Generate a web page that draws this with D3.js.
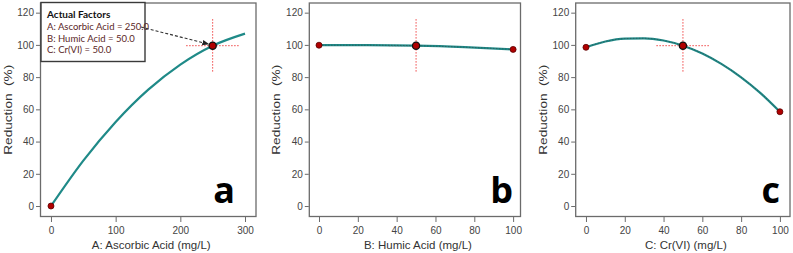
<!DOCTYPE html>
<html><head><meta charset="utf-8">
<script src="https://cdn.jsdelivr.net/npm/d3@7"></script>
<style>
html,body{margin:0;padding:0;background:#fff;}
svg{display:block;}
</style></head>
<body>
<svg id="chart" width="793" height="253"></svg>
<script>
// ---- data ----
const yTicks = [0, 20, 40, 60, 80, 100, 120];
const ascorbicTicks = [0, 100, 200, 300];
const pctTicks = [0, 20, 40, 60, 80, 100];

const ascorbicX = [0, 50, 100, 150, 200, 250, 300];
const ascorbicY = [0, 28.2, 52.2, 72.1, 87.8, 99.5, 107.0];

const humicX = [0, 25, 50, 75, 100];
const humicY = [99.8, 99.8, 99.5, 98.6, 97.2];

const crX = [0, 10, 20, 30, 40, 50, 60, 70, 80, 90, 100];
const crY = [98.5, 102.1, 103.9, 104.1, 102.7, 99.5, 94.7, 88.1, 79.9, 70.1, 58.5];

const ascorbicPtsX = [0, 250];
const ascorbicPtsY = [0, 99.5];
const humicPtsX = [0, 50, 100];
const humicPtsY = [99.8, 99.5, 97.2];
const crPtsX = [0, 50, 100];
const crPtsY = [98.5, 99.5, 58.5];

const xTitles = ["A: Ascorbic Acid (mg/L)", "B: Humic Acid (mg/L)", "C: Cr(VI) (mg/L)"];
const yTitle = "Reduction  (%)";
const panelLetters = ["a", "b", "c"];
const legendTitle = "Actual Factors";
const legendLines = ["A: Ascorbic Acid = 250.0", "B: Humic Acid = 50.0", "C: Cr(VI) = 50.0"];

// ---- layout ----
const svg = d3.select("#chart");
const plotTop = 3, plotBottom = 216.5;
const y = d3.scaleLinear().domain([-6.5, 126]).range([plotBottom, plotTop]);

const panels = [
  {dom: [-16.2, 317], range: [40.5, 256], ticks: ascorbicTicks, cx: ascorbicX, cy: ascorbicY,
   px: ascorbicPtsX, py: ascorbicPtsY, center: 250, hw: 41, letterX: 235, dashed: false},
  {dom: [-5, 103.8], range: [309.3, 520.5], ticks: pctTicks, cx: humicX, cy: humicY,
   px: humicPtsX, py: humicPtsY, center: 50, hw: 14, letterX: 513, dashed: true},
  {dom: [-5.3, 105.2], range: [575.7, 790], ticks: pctTicks, cx: crX, cy: crY,
   px: crPtsX, py: crPtsY, center: 50, hw: 13.7, letterX: 780, dashed: true}
];

const axisColor = "#6b6b6b";
const teal = "#1f8a88";
const ptFill = "#b00000";

const defs = svg.append("defs");
defs.append("marker").attr("id", "arr").attr("viewBox", "0 0 10 10").attr("refX", 9).attr("refY", 5)
  .attr("markerWidth", 7).attr("markerHeight", 7).attr("orient", "auto").attr("markerUnits", "userSpaceOnUse")
  .append("path").attr("d", "M0,1 L10,5 L0,9 Z").attr("fill", "#222");

panels.forEach((p, i) => {
  const x = d3.scaleLinear().domain(p.dom).range(p.range);
  const g = svg.append("g");

  // frame
  g.append("rect").attr("x", p.range[0]).attr("y", plotTop)
    .attr("width", p.range[1] - p.range[0]).attr("height", plotBottom - plotTop)
    .attr("fill", "none").attr("stroke", axisColor).attr("stroke-width", 1.3);

  // axes
  const ya = g.append("g").attr("transform", `translate(${p.range[0] - 0.5},0)`)
    .call(d3.axisLeft(y).tickValues(yTicks).tickSize(4).tickPadding(2));
  const xa = g.append("g").attr("transform", `translate(0,${plotBottom + 0.5})`)
    .call(d3.axisBottom(x).tickValues(p.ticks).tickSize(5).tickPadding(5));
  [ya, xa].forEach(a => {
    a.select(".domain").remove();
    a.selectAll(".tick line").attr("stroke", axisColor).attr("stroke-width", 1);
    a.selectAll(".tick text").attr("fill", "#444").style("font-family", "Liberation Sans, Arial, sans-serif").style("font-size", "10px");
  });

  // titles
  g.append("text").attr("x", (p.range[0] + p.range[1]) / 2 + 3).attr("y", 249)
    .attr("text-anchor", "middle").attr("fill", "#333")
    .style("font-family", "Liberation Sans, Arial, sans-serif").style("font-size", "11.5px")
    .text(xTitles[i]);
  g.append("text").attr("transform", `translate(${p.range[0] - 29},${(plotTop + plotBottom) / 2}) rotate(-90)`)
    .attr("text-anchor", "middle").attr("fill", "#333")
    .attr("textLength", 90).attr("lengthAdjust", "spacingAndGlyphs")
    .style("font-family", "Liberation Sans, Arial, sans-serif").style("font-size", "11.5px")
    .style("white-space", "pre")
    .text(yTitle);

  // crosshair
  const cyv = p.py[p.px.indexOf(p.center)];
  const cross = g.append("g").attr("stroke", "#f04848").attr("stroke-width", 1).attr("stroke-dasharray", "1.5,1.5");
  cross.append("line").attr("x1", x(p.center)).attr("x2", x(p.center)).attr("y1", y(cyv + 16.5)).attr("y2", y(cyv - 16.5));
  cross.append("line").attr("x1", x(p.center - p.hw)).attr("x2", x(p.center + p.hw)).attr("y1", y(cyv)).attr("y2", y(cyv));

  // curve
  const line = d3.line().x(d => x(d[0])).y(d => y(d[1])).curve(d3.curveMonotoneX);
  const pts = p.cx.map((v, k) => [v, p.cy[k]]);
  g.append("path").attr("d", line(pts)).attr("fill", "none").attr("stroke", teal).attr("stroke-width", 2.2);
  if (p.dashed) {
    g.append("path").attr("d", line(pts)).attr("fill", "none").attr("stroke", "#2d5e5c")
      .attr("stroke-width", 0.9).attr("stroke-dasharray", "1.5,1.5");
  }

  // points
  p.px.forEach((v, k) => {
    const isC = v === p.center;
    g.append("circle").attr("cx", x(v)).attr("cy", y(p.py[k])).attr("r", isC ? 3.6 : 3)
      .attr("fill", ptFill).attr("stroke", isC ? "#111" : "#5a0000").attr("stroke-width", isC ? 1.3 : 0.8);
  });

  // letter
  g.append("text").attr("x", p.letterX).attr("y", 203).attr("text-anchor", "end")
    .style("font-family", "Open Sans, Liberation Sans, Arial, sans-serif").style("font-weight", "bold")
    .style("font-size", "36px").attr("fill", "#000").text(panelLetters[i]);

  if (i === 0) {
    const lg = g.append("g");
    lg.append("rect").attr("x", 41).attr("y", 2.5).attr("width", 104).attr("height", 59)
      .attr("fill", "#fff").attr("stroke", "#3a3a3a").attr("stroke-width", 1.4);
    lg.append("text").attr("x", 47).attr("y", 18).attr("fill", "#111")
      .style("font-family", "Lato, Open Sans, sans-serif").style("font-weight", "bold").style("font-size", "10px")
      .text(legendTitle);
    legendLines.forEach((t, k) => {
      lg.append("text").attr("x", 47).attr("y", 30 + k * 11.6).attr("fill", "#5a2626")
        .style("font-family", "Lato, Open Sans, sans-serif").style("font-size", "9.5px")
        .text(t);
    });
    g.append("line").attr("x1", 141).attr("y1", 27).attr("x2", x(p.center) - 4).attr("y2", y(cyv) - 1.5)
      .attr("stroke", "#333").attr("stroke-width", 1.1).attr("stroke-dasharray", "3,2")
      .attr("marker-end", "url(#arr)");
  }
});
</script>
</body></html>
